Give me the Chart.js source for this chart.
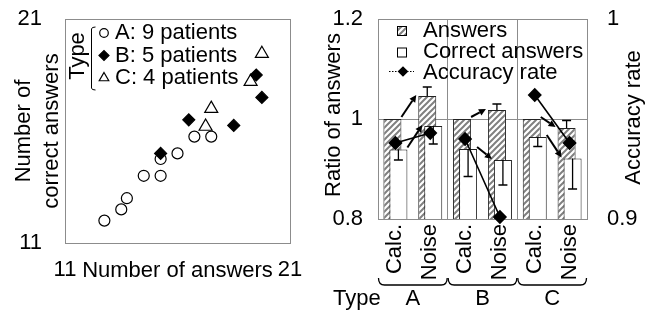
<!DOCTYPE html>
<html>
<head>
<meta charset="utf-8">
<title>Answers and accuracy by patient type</title>
<script src="https://cdn.jsdelivr.net/npm/chart.js@4/dist/chart.umd.min.js"></script>
<style>
  html, body { margin: 0; padding: 0; background: #fff; }
  .wrap { position: relative; width: 659px; height: 320px; }
  canvas { position: absolute; top: 0; }
  #scatter { left: 0; }
  #bars { left: 320px; }
</style>
</head>
<body>
<div class="wrap">
  <canvas id="scatter" width="320" height="320"></canvas>
  <canvas id="bars" width="339" height="320"></canvas>
</div>
<script>
// left panel: one point per patient
const aAnswers = [12.75, 13.5, 13.75, 14.5, 15.25, 15.25, 16, 16.75, 17.5];
const aCorrect = [12, 12.5, 13, 14, 14, 14.75, 15, 15.75, 15.75];
const bAnswers = [15.25, 16.5, 18.5, 19.5, 19.75];
const bCorrect = [15, 16.5, 16.25, 18.5, 17.5];
const cAnswers = [17.5, 17.25, 19.25, 19.75];
const cCorrect = [17, 16.2, 18.2, 19.45];
const typeLabels = ['A: 9 patients', 'B: 5 patients', 'C: 4 patients'];
const scatterTicks = [11, 21];

// right panel: ratios against Calc., accuracy on the right axis
const types = ['A', 'B', 'C'];
const methods = ['Calc.', 'Noise'];
const answersRatio = [1, 1.046, 1, 1.018, 1, 0.982];
const answersErr = [0, 0.018, 0, 0.012, 0, 0.015];
const correctRatio = [0.939, 0.986, 0.94, 0.918, 0.964, 0.921];
const correctErr = [0.021, 0.036, 0.055, 0.05, 0.019, 0.061];
const accuracy = [0.938, 0.943, 0.94, 0.901, 0.962, 0.938];
const ratioTicks = [0.8, 1, 1.2];
const accTicks = [0.9, 1];

const FONT = '"Liberation Sans", Arial, sans-serif';
const FONT_SIZE = 22;
const GRID = '#8c8c8c';

Chart.defaults.font.family = FONT;
Chart.defaults.font.size = FONT_SIZE;
Chart.defaults.color = '#000';
Chart.defaults.animation = false;
Chart.defaults.events = [];
Chart.defaults.plugins.legend.display = false;
Chart.defaults.plugins.tooltip.enabled = false;

function rotText(ctx, s, x, y) {
  ctx.save();
  ctx.translate(x, y);
  ctx.rotate(-Math.PI / 2);
  ctx.fillText(s, 0, 0);
  ctx.restore();
}

function keyPoint(ctx, style, r, fill, x, y) {
  ctx.fillStyle = fill;
  ctx.strokeStyle = '#000';
  ctx.lineWidth = 1.2;
  Chart.helpers.drawPoint(ctx, { pointStyle: style, radius: r, rotation: 0, borderWidth: 1.2 }, x, y);
}

function arrow(ctx, x0, y0, x1, y1) {
  const ang = Math.atan2(y1 - y0, x1 - x0);
  const len = 7, half = 3.5;
  const bx = x1 - len * Math.cos(ang), by = y1 - len * Math.sin(ang);
  ctx.beginPath();
  ctx.moveTo(x0, y0);
  ctx.lineTo(bx, by);
  ctx.stroke();
  ctx.beginPath();
  ctx.moveTo(x1, y1);
  ctx.lineTo(bx + half * Math.sin(ang), by - half * Math.cos(ang));
  ctx.lineTo(bx - half * Math.sin(ang), by + half * Math.cos(ang));
  ctx.closePath();
  ctx.fill();
}

function makeHatch() {
  const c = document.createElement('canvas');
  c.width = c.height = 6;
  const g = c.getContext('2d');
  g.fillStyle = '#fff';
  g.fillRect(0, 0, 6, 6);
  g.strokeStyle = '#808080';
  g.lineWidth = 2;
  g.beginPath();
  g.moveTo(0, 6); g.lineTo(6, 0);
  g.moveTo(-3, 3); g.lineTo(3, -3);
  g.moveTo(3, 9); g.lineTo(9, 3);
  g.stroke();
  return g.createPattern(c, 'repeat');
}

const pairs = (xs, ys) => xs.map((x, i) => ({ x, y: ys[i] }));
const fixTicks = list => s => { s.ticks = list.map(v => ({ value: v })); };
// fixed axis sizes; end labels may hang outside the plot without pushing it in
const fixWidth = w => s => { s.width = w; s.paddingTop = 0; s.paddingBottom = 0; };
const fixHeight = h => s => { s.height = h; s.paddingLeft = 0; s.paddingRight = 0; };

// ---------- left: scatter ----------
const keyRadius = [4.3, 5, 5.5];

const scatterDecor = {
  id: 'scatterDecor',
  afterDraw(chart) {
    const { ctx, chartArea: a } = chart;
    const midY = (a.top + a.bottom) / 2;
    ctx.save();
    ctx.font = FONT_SIZE + 'px ' + FONT;
    ctx.fillStyle = '#000';
    ctx.textBaseline = 'middle';
    ctx.textAlign = 'center';
    rotText(ctx, 'Number of', a.left - 41, midY);
    rotText(ctx, 'correct answers', a.left - 13, midY);
    ctx.fillText('Number of answers', (a.left + a.right) / 2, a.bottom + 28);

    // key: "Type" with a bracket, one row per type
    rotText(ctx, 'Type', a.left + 13, a.top + 37);
    const bx = a.left + 26.5, by0 = a.top + 8, by1 = a.top + 71;
    ctx.strokeStyle = '#000';
    ctx.lineWidth = 1;
    ctx.beginPath();
    ctx.moveTo(bx + 4, by0);
    ctx.quadraticCurveTo(bx, by0, bx, by0 + 2);
    ctx.lineTo(bx, by1 - 2);
    ctx.quadraticCurveTo(bx, by1, bx + 4, by1);
    ctx.stroke();

    const rows = [a.top + 14, a.top + 36.5, a.top + 59];
    ctx.textAlign = 'left';
    chart.data.datasets.forEach((ds, i) => {
      keyPoint(ctx, ds.pointStyle, keyRadius[i], ds.backgroundColor, a.left + 39, rows[i]);
      ctx.fillStyle = '#000';
      ctx.fillText(ds.label, a.left + 50, rows[i]);
    });
    ctx.restore();
  }
};

const scatterSets = [
  { label: typeLabels[0], data: pairs(aAnswers, aCorrect), pointStyle: 'circle', pointRadius: 5.5, backgroundColor: '#fff', order: 2 },
  { label: typeLabels[1], data: pairs(bAnswers, bCorrect), pointStyle: 'rectRot', pointRadius: 6, backgroundColor: '#000', order: 0 },
  { label: typeLabels[2], data: pairs(cAnswers, cCorrect), pointStyle: 'triangle', pointRadius: 7.5, backgroundColor: '#fff', order: 1 },
];
scatterSets.forEach(d => { d.borderColor = '#000'; d.borderWidth = 1.2; });

new Chart(document.getElementById('scatter'), {
  type: 'scatter',
  data: { datasets: scatterSets },
  options: {
    responsive: false,
    layout: { padding: { top: 19, right: 30 } },
    scales: {
      x: {
        type: 'linear', min: 11, max: 21,
        afterBuildTicks: fixTicks(scatterTicks),
        afterFit: fixHeight(77),
        ticks: { padding: 14, maxRotation: 0, autoSkip: false, callback: v => String(v) },
        grid: { color: GRID, drawTicks: false },
        border: { color: GRID },
      },
      y: {
        type: 'linear', min: 11, max: 21,
        afterBuildTicks: fixTicks(scatterTicks),
        afterFit: fixWidth(65),
        ticks: { padding: 23, autoSkip: false, callback: v => String(v) },
        grid: { color: GRID, drawTicks: false },
        border: { color: GRID },
      },
    },
  },
  plugins: [scatterDecor],
});

// ---------- right: bars + accuracy ----------
const hatch = makeHatch();
const SHIFT = 0.086; // answers bar sits a little left, correct bar a little right

const slotX = [];
types.forEach((t, g) => methods.forEach((m, j) => slotX.push(g * methods.length + j + 1)));
const groupEdges = types.map((t, g) => g * methods.length + 0.5).concat(types.length * methods.length + 0.5);
const xTicks = slotX.concat(groupEdges.slice(1, -1)).sort((p, q) => p - q);

const accPoints = [];
types.forEach((t, g) => {
  methods.forEach((m, j) => {
    const i = g * methods.length + j;
    accPoints.push({ x: slotX[i], y: accuracy[i] });
  });
  accPoints.push({ x: groupEdges[g + 1], y: null });
});

const barCommon = {
  grouped: false, categoryPercentage: 1, barPercentage: 4, maxBarThickness: 18,
  borderColor: '#222', borderWidth: 1,
};

const barDecor = {
  id: 'barDecor',
  afterDatasetDraw(chart, args) {
    const ds = chart.data.datasets[args.index];
    if (!ds.errors) return;
    const { ctx } = chart;
    const ys = chart.scales.y;
    ctx.save();
    ctx.strokeStyle = '#000';
    ctx.lineWidth = 1.3;
    args.meta.data.forEach((bar, i) => {
      const e = ds.errors[i];
      if (!e) return;
      const yEnd = ys.getPixelForValue(ds.data[i].y + ds.errDir * e);
      ctx.beginPath();
      ctx.moveTo(bar.x, bar.y);
      ctx.lineTo(bar.x, yEnd);
      ctx.moveTo(bar.x - 4.5, yEnd);
      ctx.lineTo(bar.x + 4.5, yEnd);
      ctx.stroke();
    });
    ctx.restore();
  },
  afterDatasetsDraw(chart) {
    const { ctx } = chart;
    ctx.save();
    ctx.strokeStyle = '#000';
    ctx.fillStyle = '#000';
    ctx.lineWidth = 2;
    [2, 1].forEach(di => {
      const bars = chart.getDatasetMeta(di).data;
      types.forEach((t, g) => {
        const p = bars[g * methods.length], q = bars[g * methods.length + 1];
        arrow(ctx, p.x + p.width / 2, p.y - 2, q.x - q.width / 2 - 2, q.y - 1);
      });
    });
    ctx.restore();
  },
  afterDraw(chart) {
    const { ctx, chartArea: a } = chart;
    const xs = chart.scales.x;
    const midY = (a.top + a.bottom) / 2;
    ctx.save();
    ctx.font = FONT_SIZE + 'px ' + FONT;
    ctx.fillStyle = '#000';
    ctx.strokeStyle = '#000';
    ctx.textBaseline = 'middle';
    ctx.textAlign = 'center';
    rotText(ctx, 'Ratio of answers', a.left - 44, midY - 4);
    rotText(ctx, 'Accuracy rate', a.right + 46.5, midY - 1.5);

    // key inside the plot
    const kx = a.left + 24, tx = a.left + 45;
    const rows = [a.top + 11.5, a.top + 33, a.top + 54];
    ctx.lineWidth = 1;
    ctx.fillStyle = hatch;
    ctx.fillRect(kx - 4.5, rows[0] - 4, 9, 9);
    ctx.strokeRect(kx - 4.5, rows[0] - 4, 9, 9);
    ctx.fillStyle = '#fff';
    ctx.fillRect(kx - 4.5, rows[1] - 4, 9, 9);
    ctx.strokeRect(kx - 4.5, rows[1] - 4, 9, 9);
    ctx.setLineDash([1.5, 1.5]);
    ctx.beginPath();
    ctx.moveTo(kx - 13, rows[2] - 1.5);
    ctx.lineTo(kx + 12, rows[2] - 1.5);
    ctx.stroke();
    ctx.setLineDash([]);
    keyPoint(ctx, 'rectRot', 4.5, '#000', kx + 1, rows[2] - 1.5);
    ctx.fillStyle = '#000';
    ctx.textAlign = 'left';
    ['Answers', 'Correct answers', 'Accuracy rate'].forEach((s, i) => ctx.fillText(s, tx, rows[i]));

    // braces and type letters under the method labels
    ctx.lineWidth = 1.3;
    ctx.textAlign = 'center';
    const top = a.bottom + 59, bot = a.bottom + 66;
    types.forEach((t, g) => {
      const x0 = xs.getPixelForValue(groupEdges[g]) + 0.5;
      const x1 = xs.getPixelForValue(groupEdges[g + 1]) - 0.5;
      ctx.beginPath();
      ctx.moveTo(x0, top);
      ctx.quadraticCurveTo(x0, bot, x0 + 6, bot);
      ctx.lineTo(x1 - 6, bot);
      ctx.quadraticCurveTo(x1, bot, x1, top);
      ctx.stroke();
      ctx.fillText(t, (x0 + x1) / 2, a.bottom + 80);
    });
    ctx.textAlign = 'left';
    ctx.fillText('Type', a.left - 45, a.bottom + 80);
    ctx.restore();
  }
};

new Chart(document.getElementById('bars'), {
  type: 'bar',
  data: {
    datasets: [
      {
        type: 'line', label: 'Accuracy rate', yAxisID: 'y1', order: 0,
        data: accPoints, borderColor: '#000', borderWidth: 1.6,
        pointStyle: 'rectRot', pointRadius: 6, pointBackgroundColor: '#000', pointBorderColor: '#000',
        clip: false,
      },
      {
        ...barCommon, label: 'Correct answers', order: 1,
        data: slotX.map((x, i) => ({ x: x + SHIFT, y: correctRatio[i] })),
        backgroundColor: '#fff', errors: correctErr, errDir: -1,
      },
      {
        ...barCommon, label: 'Answers', order: 2,
        data: slotX.map((x, i) => ({ x: x - SHIFT, y: answersRatio[i] })),
        backgroundColor: hatch, errors: answersErr, errDir: 1,
      },
    ],
  },
  options: {
    responsive: false,
    layout: { padding: { top: 19 } },
    scales: {
      x: {
        type: 'linear', min: 0.5, max: 6.5, offset: false,
        afterBuildTicks: fixTicks(xTicks),
        afterFit: fixHeight(101),
        ticks: {
          autoSkip: false, minRotation: 90, maxRotation: 90, padding: 5,
          callback: v => Number.isInteger(v) ? methods[(v - 1) % methods.length] : '',
        },
        grid: {
          offset: false, drawTicks: false,
          color: c => (c.tick && Number.isInteger(c.tick.value)) ? 'rgba(0,0,0,0)' : GRID,
        },
        border: { color: GRID },
      },
      y: {
        type: 'linear', min: 0.8, max: 1.2,
        afterBuildTicks: fixTicks(ratioTicks),
        afterFit: fixWidth(58),
        ticks: { padding: 15, callback: v => String(v) },
        grid: { color: GRID, drawTicks: false },
        border: { color: GRID },
      },
      y1: {
        type: 'linear', position: 'right', min: 0.9, max: 1,
        afterBuildTicks: fixTicks(accTicks),
        afterFit: fixWidth(72),
        ticks: { padding: 20, callback: v => String(v) },
        grid: { drawOnChartArea: false, drawTicks: false },
        border: { color: GRID },
      },
    },
  },
  plugins: [barDecor],
});
</script>
</body>
</html>
